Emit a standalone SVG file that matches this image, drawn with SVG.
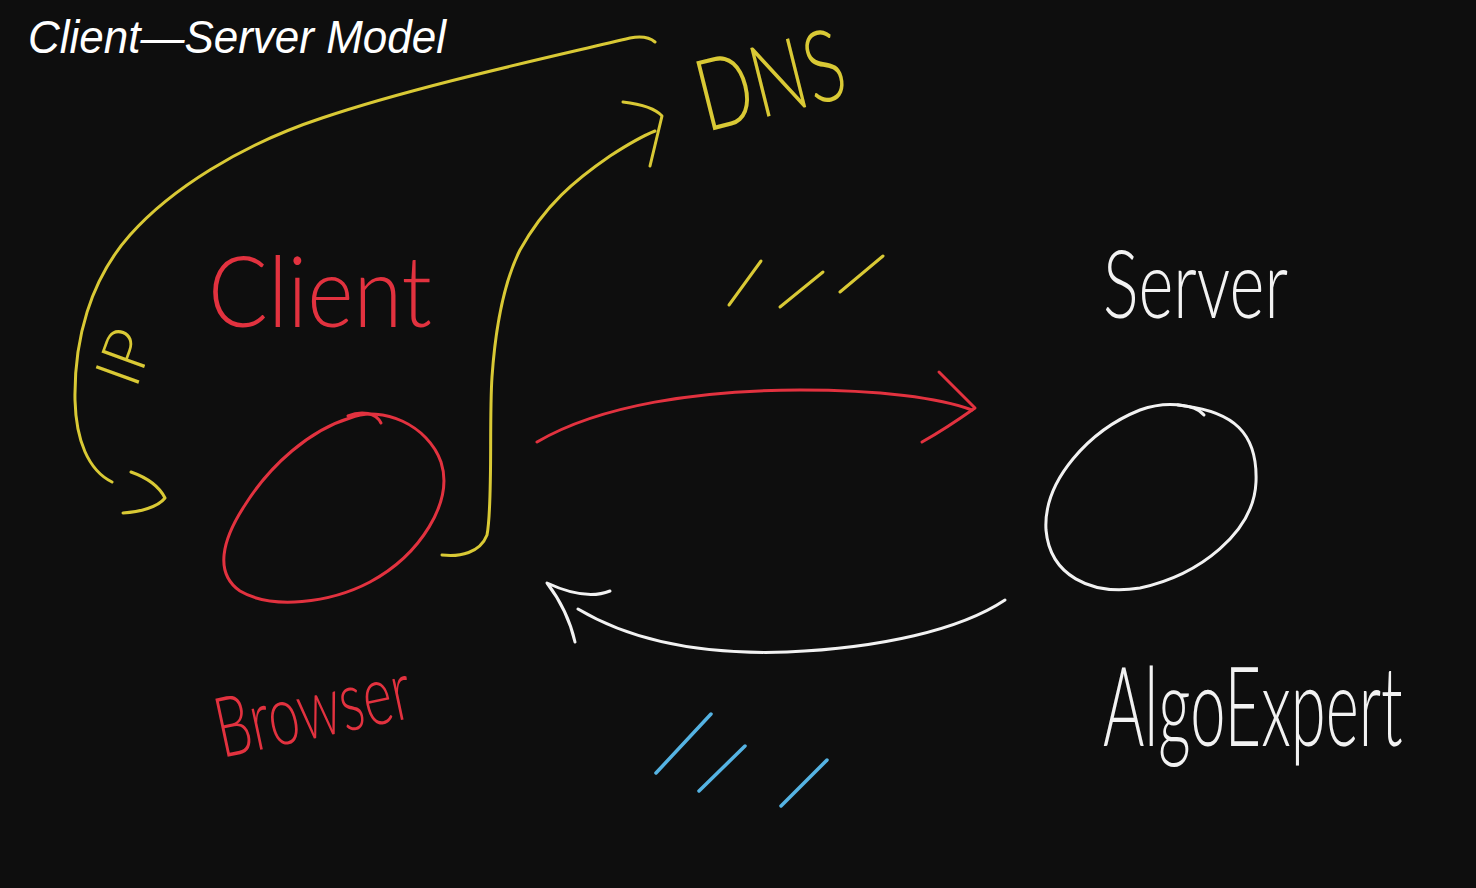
<svg xmlns="http://www.w3.org/2000/svg" width="1476" height="888" viewBox="0 0 1476 888">
<defs>
<style>
.bg{fill:#0e0e0e}
.stroke{fill:none;stroke-linecap:round;stroke-linejoin:round;stroke-width:3}
.y{stroke:#d9c935}
.r{stroke:#e2323f}
.w{stroke:#f2f2f2}
.b{stroke:#55b3e3;stroke-width:3.5}
.hand{font-family:Lato,"Open Sans","Liberation Sans Narrow",sans-serif;font-weight:300}
.ty{fill:#d9c935}
.tr{fill:#e2323f}
.tw{fill:#f2f2f2}
.title{font-family:"Liberation Sans",Arial,sans-serif;font-style:italic;fill:#ffffff;font-size:46px}
</style>
</defs>
<rect class="bg" x="0" y="0" width="1476" height="888"/>

<g id="title">
<text class="title" x="28" y="53" textLength="418" lengthAdjust="spacingAndGlyphs">Client—Server Model</text>
</g>

<g id="node-client">
<path class="stroke r" d="M350,418 C382,405 428,425 441,462 C454,502 420,555 370,582 C330,603 272,610 240,591 C214,573 222,540 245,505 C270,465 310,430 350,418 Z"/>
<path class="stroke r" d="M348,416 C362,410 376,413 381,423"/>
<text class="hand tr" x="0" y="0" font-size="98" textLength="244" lengthAdjust="spacingAndGlyphs" transform="translate(208,327) scale(0.918,1)">Client</text>
<text class="hand tr" x="0" y="0" font-size="84" textLength="297" lengthAdjust="spacingAndGlyphs" transform="translate(222,758) rotate(-12) scale(0.667,1)">Browser</text>
</g>

<g id="node-server">
<path class="stroke w" d="M1185,406 C1232,412 1258,432 1256,482 C1254,532 1200,575 1140,588 C1090,596 1050,575 1046,530 C1043,480 1090,430 1140,410 C1160,403 1175,404 1185,406 Z"/>
<path class="stroke w" d="M1178,405 C1192,406 1200,410 1204,415"/>
<text class="hand tw" x="0" y="0" font-size="94" textLength="257" lengthAdjust="spacingAndGlyphs" transform="translate(1103,318) scale(0.72,1)">Server</text>
<text class="hand tw" x="0" y="0" font-size="110" textLength="516" lengthAdjust="spacingAndGlyphs" transform="translate(1103,746) scale(0.581,1)">AlgoExpert</text>
</g>

<g id="node-dns">
<text class="hand ty" x="0" y="0" font-size="100" textLength="193" lengthAdjust="spacingAndGlyphs" transform="translate(706,132) rotate(-14) scale(0.777,1)">DNS</text>
</g>

<g id="label-ip">
<text class="hand ty" x="0" y="0" font-size="64" transform="translate(136,390) rotate(-70)">IP</text>
</g>

<g id="connectors">
<path class="stroke y" d="M655,42 C648,36 640,36 630,38 C560,55 420,85 322,118 C240,145 170,190 130,235 C90,280 74,340 75,400 C76,440 88,470 112,482"/>
<path class="stroke y" d="M131,472 C148,478 160,488 165,498 C158,507 140,512 123,513"/>
<path class="stroke y" d="M442,555 C460,557 480,553 487,535 C493,505 489,420 492,377 C496,320 505,280 520,250 C545,205 575,180 610,156 C630,143 645,135 655,131"/>
<path class="stroke y" d="M623,102 C640,104 655,108 662,116 C658,132 654,150 650,166"/>
<path class="stroke r" d="M537,442 C600,405 700,390 800,390 C880,390 940,398 972,410"/>
<path class="stroke r" d="M939,372 C952,385 965,398 975,408 C958,420 940,432 922,442"/>
<path class="stroke w" d="M1005,600 C960,630 880,648 787,652 C700,655 630,640 578,609"/>
<path class="stroke w" d="M610,591 C595,597 575,596 547,583 C560,600 570,620 575,642"/>
<path class="stroke y" d="M729,305 L761,261"/>
<path class="stroke y" d="M780,307 L823,272"/>
<path class="stroke y" d="M840,292 L883,256"/>
<path class="stroke b" d="M656,773 L711,714"/>
<path class="stroke b" d="M699,791 L745,746"/>
<path class="stroke b" d="M781,806 L827,760"/>
</g>
</svg>
